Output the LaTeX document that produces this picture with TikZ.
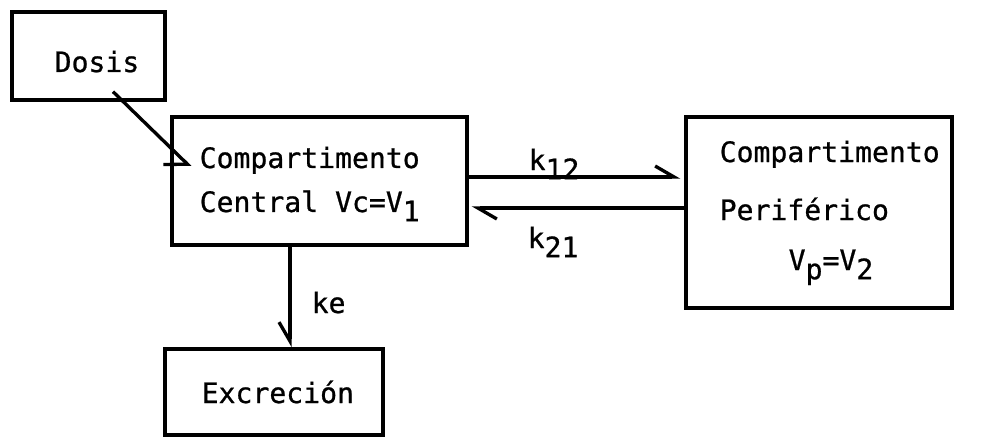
\documentclass[tikz,border=0pt]{standalone}
\usepackage{fontspec}
\newfontfamily\typew[FakeBold=0.8]{DejaVu Sans Mono}
\usetikzlibrary{arrows.meta,calc}
\newcommand{\low}[1]{\raisebox{-0.6ex}{#1}}
\begin{document}
\begin{tikzpicture}[x=1cm,y=1cm,line width=1.9pt,
  box/.style={draw,rectangle,inner sep=0pt},
  txt/.style={anchor=base west,inner sep=0pt,font=\fontsize{16}{19}\typew},
  harp/.style={-{Straight Barb[harpoon,length=0.38cm,width=0.44cm]}},
  harpsw/.style={-{Straight Barb[harpoon,swap,length=0.38cm,width=0.44cm]}}]
  \useasboundingbox (0,0) rectangle (19.8,8.74);

  % compartments
  \node[box,minimum width=3.06cm,minimum height=1.76cm] (dosis) at (1.77,7.62) {};
  \node[box,minimum width=5.9cm,minimum height=2.56cm] (central) at (6.39,5.12) {};
  \node[box,minimum width=5.32cm,minimum height=3.82cm] (periph) at (16.38,4.49) {};
  \node[box,minimum width=4.36cm,minimum height=1.72cm] (excr) at (5.48,0.9) {};

  \node[txt] (dosistxt) at (1.06,7.30) {Dosis};
  \node[txt] (centrala) at (3.96,5.38) {Compartimento};
  \node[txt] (centralb) at (3.96,4.50) {Central Vc=V\low{1}};
  \node[txt] (periapha) at (14.36,5.50) {Compartimento};
  \node[txt] (periaphb) at (14.36,4.34) {Periférico};
  \node[txt] (periaphc) at (15.74,3.34) {V\low{p}=V\low{2}};
  \node[txt] (excrtxt) at (4.00,0.68) {Excreción};

  % rate constants
  \node[txt] (k12) at (10.54,5.34) {k\low{12}};
  \node[txt] (k21) at (10.52,3.78) {k\low{21}};
  \node[txt] (ke) at (6.20,2.48) {ke};

  \coordinate (k12a) at ([yshift=0.08cm]central.east);
  \coordinate (k21a) at ([yshift=-0.54cm]central.east);
  \coordinate (kea) at ([xshift=-0.59cm]central.south);

  \draw[-{Straight Barb[harpoon,swap,length=0.34cm,width=0.68cm]}]
    ($(dosis.south)+(0.49,0.2)$) -- ($(central.west)+(0.4,0.28)$);
  \draw[harp,shorten >=0.08cm] (k12a) -- (k12a -| periph.west);
  \draw[harp,shorten >=0.06cm] (k21a -| periph.west) -- (k21a);
  \draw[harpsw] (kea) -- (kea |- excr.north);
\end{tikzpicture}
\end{document}
